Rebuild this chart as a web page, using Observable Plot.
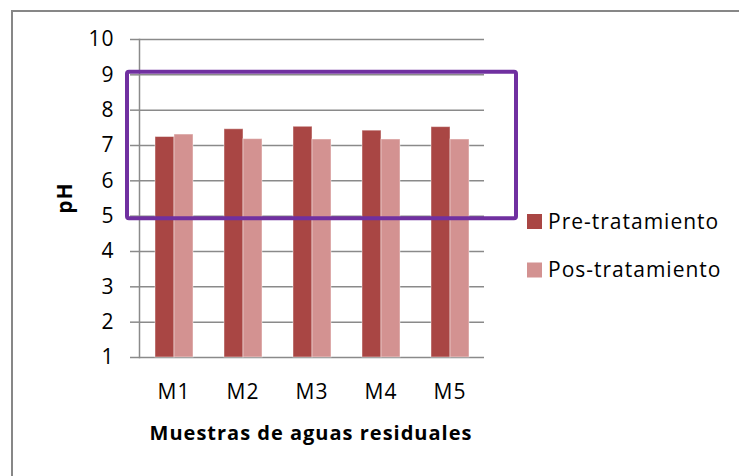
<!DOCTYPE html>
<html>
<head>
<meta charset="utf-8">
<script src="https://cdn.jsdelivr.net/npm/d3@7"></script>
<script src="https://cdn.jsdelivr.net/npm/@observablehq/plot@0.6"></script>
<style>
  html, body { margin: 0; padding: 0; background: #fff; overflow: hidden; }
  #wrap { position: relative; width: 739px; height: 476px; overflow: hidden; }
  #border { position: absolute; left: 11px; top: 10px; width: 900px; height: 700px;
            border-top: 2px solid #878787; border-left: 2px solid #878787; }
  #chart { position: absolute; left: 0; top: 0; }
  #chart text { letter-spacing: 1px; }
</style>
</head>
<body>
<div id="wrap"><div id="border"></div><div id="chart"></div></div>
<script>
// Samples and pH readings before / after treatment
const samples = ["M1", "M2", "M3", "M4", "M5"];
const preValues = [7.24, 7.46, 7.53, 7.42, 7.52];
const posValues = [7.31, 7.18, 7.17, 7.17, 7.17];
const seriesNames = ["Pre-tratamiento", "Pos-tratamiento"];
const seriesColors = ["#A94644", "#D39291"];
const yTicks = [1, 2, 3, 4, 5, 6, 7, 8, 9, 10];
const yDomain = [1, 10];
// highlighted pH band (box around the 5–9 range)
const bandRange = [4.93, 9.07];
const xTitle = "Muestras de aguas residuales";
const yTitle = "pH";

const rows = samples.flatMap((s, i) => [
  {sample: s, series: seriesNames[0], pH: preValues[i]},
  {sample: s, series: seriesNames[1], pH: posValues[i]}
]);

const W = 739, H = 476;
const mL = 138, mR = 255, mT = 39, mB = 119;
const gridColor = "#8a8a8a";
const font = "'Open Sans', sans-serif";

const plot = Plot.plot({
  width: W, height: H,
  marginLeft: mL, marginRight: mR, marginTop: mT, marginBottom: mB,
  style: {fontFamily: font, fontSize: "21px", color: "#000", background: "transparent", overflow: "visible"},
  fx: {domain: samples, padding: 0, axis: "bottom", tickSize: 0, tickPadding: 27, label: null},
  x: {domain: seriesNames, paddingInner: 0, paddingOuter: 0.75, axis: null},
  y: {domain: yDomain, axis: null},
  color: {domain: seriesNames, range: seriesColors},
  marks: [
    Plot.ruleY(yTicks, {stroke: gridColor, strokeWidth: 1.5}),
    Plot.barY(rows, {fx: "sample", x: "series", y1: yDomain[0], y2: "pH", fill: "series",
                     stroke: "#fff", strokeOpacity: 0.45, strokeWidth: 1}),
    Plot.axisY(yTicks, {tickSize: 9, tickPadding: 16, stroke: gridColor, strokeWidth: 1.5, fill: "#000", label: null}),
    Plot.frame({anchor: "left", facetAnchor: "left", stroke: gridColor, strokeWidth: 1.5})
  ]
});
document.getElementById("chart").appendChild(plot);

// annotations, titles and legend on top of the plot
const y = plot.scale("y");
const svg = d3.select(plot);
const g = svg.append("g");

g.append("rect")
  .attr("x", mL - 11).attr("y", y.apply(bandRange[1]))
  .attr("width", (W - mR + 32) - (mL - 11))
  .attr("height", y.apply(bandRange[0]) - y.apply(bandRange[1]))
  .attr("rx", 2)
  .attr("fill", "none").attr("stroke", "#7030A0").attr("stroke-width", 4);

g.append("text")
  .attr("transform", `translate(64,${(mT + H - mB) / 2}) rotate(-90)`)
  .attr("text-anchor", "middle").attr("dominant-baseline", "central")
  .attr("font-family", font).attr("font-weight", "bold").attr("font-size", 21)
  .text(yTitle);

g.append("text")
  .attr("x", (mL + W - mR) / 2).attr("y", 440)
  .attr("text-anchor", "middle")
  .attr("font-family", font).attr("font-weight", "bold").attr("font-size", 20)
  .text(xTitle);

const legend = g.selectAll("g.leg").data(seriesNames).join("g")
  .attr("transform", (d, i) => `translate(${W - mR + 43},${214 + i * 48.5})`);
legend.append("rect").attr("width", 15).attr("height", 15)
  .attr("fill", (d, i) => seriesColors[i]);
legend.append("text").attr("x", 21).attr("y", 14.5)
  .attr("text-anchor", "start")
  .attr("font-family", font).attr("font-size", 21)
  .text(d => d);
</script>
</body>
</html>
